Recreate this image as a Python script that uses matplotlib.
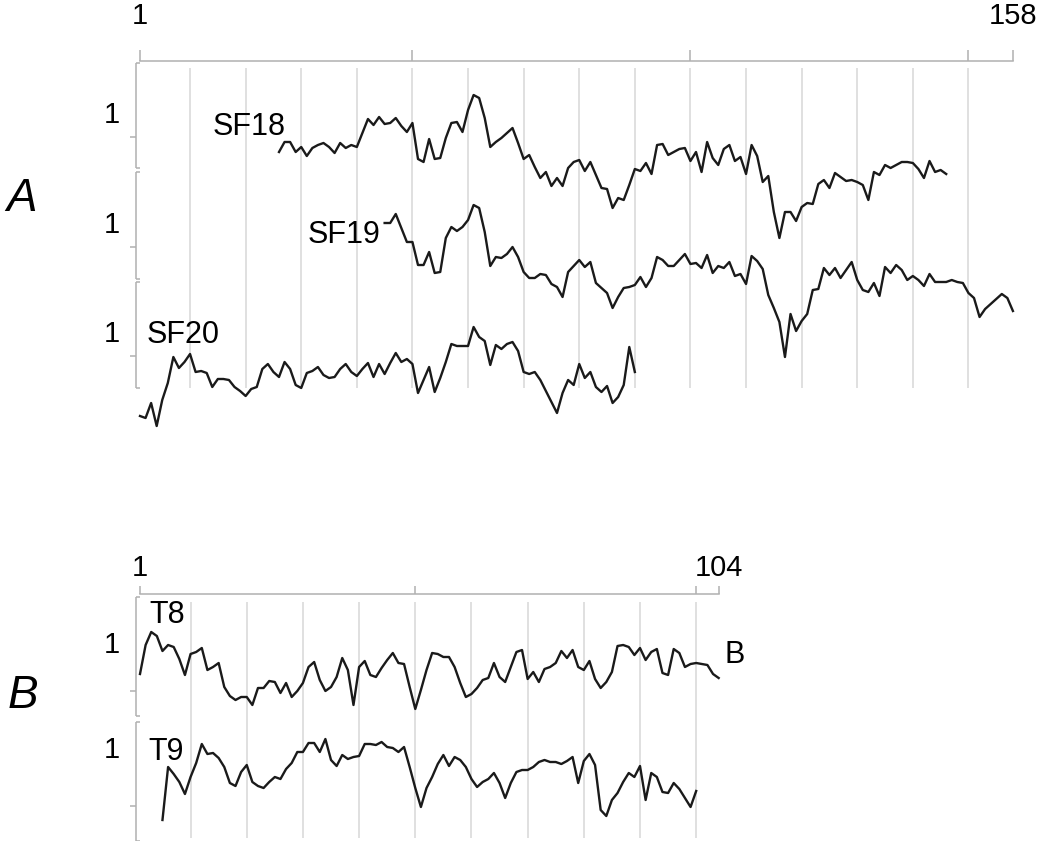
import numpy as np
import matplotlib
matplotlib.use('Agg')
import matplotlib.pyplot as plt

plt.rcParams['font.family'] = ['Liberation Sans', 'DejaVu Sans']

# panel A: position 1..158, amplitudes in a.u. above each trace baseline
sf18_start = 26
sf18 = [16, 26, 26, 16, 21, 12, 20, 23, 25, 21, 15, 25, 20, 23, 21, 35, 49, 43, 51, 44,
        45, 50, 42, 36, 45, 9, 6, 29, 9, 10, 30, 45, 46, 36, 58, 73, 70, 50, 21, 26,
        30, 35, 40, 25, 9, 13, 1, -10, -4, -18, -10, -18, 0, 6, 8, -3, 6, -7, -20, -21,
        -40, -30, -32, -17, -1, -3, 5, -6, 23, 24, 13, 16, 19, 20, 7, 16, -4, 26, 10, 3,
        19, 23, 7, 11, -6, 23, 12, -14, -8, -44, -70, -44, -44, -53, -39, -35, -36, -16, -12, -20,
        -5, -9, -13, -12, -14, -17, -32, -4, -7, 3, 0, 3, 6, 6, 5, -1, -10, 7, -4, -2,
        -6]
sf19_start = 45
sf19 = [56, 56, 65, 51, 37, 37, 14, 14, 27, 6, 7, 41, 52, 48, 52, 59, 74, 71, 47, 13,
        22, 21, 25, 32, 22, 7, 1, 1, 5, 4, -5, -8, -18, 7, 13, 19, 12, 17, -4, -9,
        -14, -29, -18, -9, -8, -6, 2, -8, 1, 22, 19, 13, 13, 19, 25, 15, 16, 11, 24, 6,
        13, 11, 17, 3, 5, -5, 23, 18, 10, -16, -29, -43, -78, -35, -52, -42, -35, -11, -10, 11,
        4, 11, 1, 9, 17, -1, -11, -13, -4, -17, 12, 6, 14, 9, -1, 3, -1, -7, 5, -3,
        -3, -3, -1, -3, -4, -14, -19, -38, -30, -25, -20, -15, -19, -32]
sf20_start = 1
sf20 = [-28, -30, -15, -38, -12, 5, 31, 20, 26, 34, 16, 17, 15, 1, 9, 9, 8, 1, -3, -8,
        -1, 1, 19, 24, 16, 11, 26, 19, 3, 0, 15, 17, 21, 13, 10, 11, 19, 24, 16, 12,
        19, 25, 11, 24, 14, 25, 35, 26, 29, 24, -5, 8, 21, -4, 10, 26, 44, 42, 42, 42,
        61, 51, 47, 23, 43, 39, 44, 46, 37, 16, 14, 16, 8, -3, -14, -25, -5, 8, 3, 24,
        10, 16, 1, -4, 2, -15, -9, 3, 41, 16]

# panel B: position 1..104
t8_start = 1
t8 = [42, 71, 84, 80, 65, 71, 69, 57, 41, 62, 64, 68, 46, 49, 53, 29, 20, 16, 19, 19,
      11, 28, 28, 35, 34, 23, 33, 19, 25, 33, 49, 54, 36, 25, 29, 39, 58, 46, 11, 49,
      55, 41, 39, 48, 56, 63, 53, 52, 29, 7, 26, 46, 63, 62, 59, 59, 49, 33, 19, 22,
      28, 36, 38, 53, 39, 34, 49, 64, 66, 37, 44, 34, 47, 49, 53, 65, 58, 66, 49, 46,
      55, 37, 28, 34, 44, 70, 71, 69, 61, 68, 56, 64, 67, 43, 41, 67, 63, 49, 52, 53,
      52, 51, 42, 38]
t9_start = 5
t9 = [21, 74, 67, 59, 47, 64, 78, 97, 87, 88, 83, 74, 58, 55, 69, 76, 59, 55, 53, 59,
      64, 62, 72, 78, 89, 89, 98, 98, 89, 102, 81, 75, 86, 82, 84, 85, 97, 97, 96, 99,
      94, 93, 89, 94, 74, 53, 34, 53, 64, 77, 86, 75, 84, 81, 74, 62, 54, 59, 62, 68,
      58, 43, 58, 69, 71, 71, 74, 79, 81, 79, 79, 77, 80, 84, 58, 80, 87, 76, 31, 25,
      41, 48, 59, 68, 64, 75, 41, 68, 64, 49, 48, 58, 52, 43, 34, 50]

a_names = ['SF18', 'SF19', 'SF20']
b_names = ['T8', 'T9']

W, H = 1041, 841
line_col = '#1a1a1a'
axis_col = '#b0b0b0'
grid_col = '#dadada'
fs = 21

fig = plt.figure(figsize=(W / 100, H / 100), dpi=100)


def px_axes(left, top, right, bottom):
    return fig.add_axes([left / W, 1 - bottom / H, (right - left) / W, (bottom - top) / H])


def setup(ax, n, xticks, grid_x, grid_lo, grid_hi, seg, inner, outer, pad, tlen):
    for s in ['left', 'right', 'bottom']:
        ax.spines[s].set_visible(False)
    ax.spines['top'].set_bounds(1, n)
    ax.spines['top'].set_color(axis_col)
    ax.spines['top'].set_linewidth(1.1)
    ax.xaxis.tick_top()
    ax.set_xticks(xticks)
    ax.set_xticklabels(['1'] + [''] * (len(xticks) - 2) + [str(n)])
    ax.tick_params(axis='x', direction='out', length=tlen, width=1.1, color=axis_col,
                   labelsize=fs, pad=pad)
    ax.vlines(grid_x, grid_lo, grid_hi, color=grid_col, lw=1.2, zorder=0)
    tr = ax.get_yaxis_transform()
    for lo, hi in seg:
        ax.vlines(0, lo, hi, transform=tr, color=axis_col, lw=1.1, clip_on=False)
    ax.set_yticks(inner)
    ax.set_yticks(outer, minor=True)
    ax.tick_params(axis='y', which='major', direction='in', length=3, width=1.1,
                   color=axis_col, labelleft=False)
    ax.tick_params(axis='y', which='minor', direction='out', length=4, width=1.1,
                   color=axis_col, labelleft=False)


# ---- panel A
axA = px_axes(136, 61, 1030, 430)
axA.set_xlim(1 - 4 / 5.56, 1 + 890 / 5.56)
axA.set_ylim(-262, 107)
setup(axA, 158, [1, 50, 100, 150, 158], np.arange(10, 151, 10), -220, 100,
      [(0, 105), (-111, -4), (-220, -114)], [105, 0, -4, -111, -114, -220],
      [31, -79, -188], 14, 8)

a_series = [(sf18_start, sf18), (sf19_start, sf19), (sf20_start, sf20)]
a_offsets = [0, -111, -220]
a_text = [(14.1, 33), (31.2, -75), (2.1, -175)]
a_one = [45, -65, -174]
for (start, vals), off, name, (tx, ty), oy in zip(a_series, a_offsets, a_names, a_text, a_one):
    x = np.arange(start, start + len(vals))
    axA.plot(x, np.array(vals) + off, color=line_col, lw=1.7)
    axA.text(tx, ty, name, fontsize=fs + 1, ha='left', va='baseline')
    axA.annotate('1', xy=(0, oy), xycoords=axA.get_yaxis_transform(),
                 xytext=(-11.5, 0), textcoords='offset points',
                 fontsize=fs, ha='right', va='baseline')

# ---- panel B
axB = px_axes(136, 594, 760, 841)
axB.set_xlim(1 - 4 / 5.618, 1 + 620 / 5.618)
axB.set_ylim(-125, 122)
setup(axB, 104, [1, 50, 100, 104], np.arange(10, 101, 10), -122, 114,
      [(0, 119), (-125, -6)], [119, 0, -6, -125], [25, -90], 3, 6)

b_series = [(t8_start, t8), (t9_start, t9)]
b_offsets = [0, -125]
b_text = [(2.7, 93), (2.5, -44)]
b_one = [63, -42]
for (start, vals), off, name, (tx, ty), oy in zip(b_series, b_offsets, b_names, b_text, b_one):
    x = np.arange(start, start + len(vals))
    axB.plot(x, np.array(vals) + off, color=line_col, lw=1.7)
    axB.text(tx, ty, name, fontsize=fs + 1, ha='left', va='baseline')
    axB.annotate('1', xy=(0, oy), xycoords=axB.get_yaxis_transform(),
                 xytext=(-11.5, 0), textcoords='offset points',
                 fontsize=fs, ha='right', va='baseline')
axB.text(105.1, 53, 'B', fontsize=fs + 1, ha='left', va='baseline')

fig.text(22 / W, 1 - 211 / H, 'A', fontsize=33, style='italic', ha='center', va='baseline')
fig.text(23 / W, 1 - 708 / H, 'B', fontsize=33, style='italic', ha='center', va='baseline')

fig.savefig('out.png', dpi=100, facecolor='white')
